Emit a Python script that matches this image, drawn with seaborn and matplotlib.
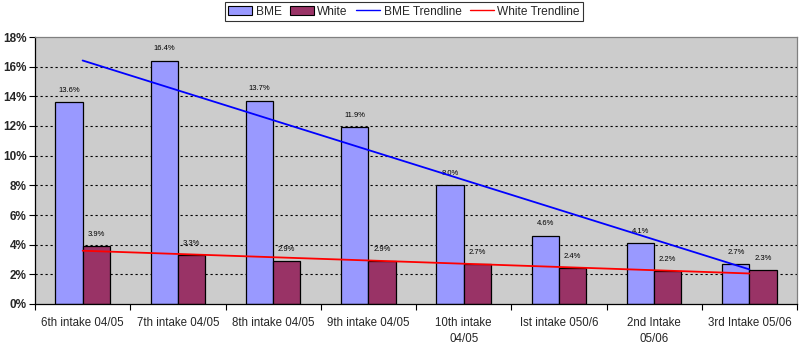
import numpy as np
import pandas as pd
import matplotlib
matplotlib.use("Agg")
import matplotlib.pyplot as plt
from matplotlib.patches import Patch
from matplotlib.lines import Line2D
import seaborn as sns

# Intake cohorts and the share of each group (%)
intakes = ["6th intake 04/05", "7th intake 04/05", "8th intake 04/05", "9th intake 04/05",
           "10th intake\n04/05", "Ist intake 050/6", "2nd Intake\n05/06", "3rd Intake 05/06"]
bme = [13.6, 16.4, 13.7, 11.9, 8.0, 4.6, 4.1, 2.7]
white = [3.9, 3.3, 2.9, 2.9, 2.7, 2.4, 2.2, 2.3]
y_ticks = [0, 2, 4, 6, 8, 10, 12, 14, 16, 18]

BME_COLOR = "#9999FF"
WHITE_COLOR = "#993366"
PLOT_BG = "#CCCCCC"

sns.set_theme(style="white")
plt.rcParams["font.family"] = ["Liberation Sans", "DejaVu Sans"]

df = pd.DataFrame({
    "intake": intakes * 2,
    "pct": bme + white,
    "group": ["BME"] * len(bme) + ["White"] * len(white),
})

fig = plt.figure(figsize=(8.01, 3.49), dpi=100)
ax = fig.add_axes([35 / 801, 1 - 304 / 349, (797 - 35) / 801, (304 - 37) / 349])
ax.set_facecolor(PLOT_BG)

sns.barplot(data=df, x="intake", y="pct", hue="group", order=intakes,
            hue_order=["BME", "White"], palette=[BME_COLOR, WHITE_COLOR],
            width=0.57, edgecolor="black", linewidth=0.9, saturation=1,
            errorbar=None, legend=False, ax=ax)

# Value labels above each bar
for container in ax.containers:
    ax.bar_label(container, labels=[f"{v:.1f}%" for v in container.datavalues],
                 padding=6, fontsize=5.5, color="black")

# Linear trendlines through the category centres
xs = np.arange(len(intakes))
for vals, col in [(bme, "#0000FF"), (white, "#FF0000")]:
    k, b = np.polyfit(xs, vals, 1)
    ax.plot(xs, k * xs + b, color=col, linewidth=1.3, zorder=5)

ax.set_xlim(-0.5, len(intakes) - 0.5)
ax.set_ylim(0, 18)
ax.set_yticks(y_ticks)
ax.set_yticklabels([f"{t}%" for t in y_ticks], fontsize=8.5, fontweight="bold")
for t in y_ticks[1:-1]:
    ax.axhline(t, color="black", linewidth=0.8, linestyle=(0, (2, 2.5)), zorder=0.5)

# Category separators as major ticks, labels on the minor ticks at the centres
ax.set_xticks(np.arange(len(intakes) + 1) - 0.5)
ax.set_xticklabels([])
ax.set_xticks(xs, minor=True)
ax.set_xticklabels(intakes, minor=True, fontsize=8.3, linespacing=1.45)
ax.tick_params(axis="x", which="major", direction="out", length=4, width=0.8,
               color="black", bottom=True)
ax.tick_params(axis="x", which="minor", length=0, pad=9)
ax.tick_params(axis="y", direction="out", length=4, width=0.8, color="black",
               left=True, pad=2)
ax.set_xlabel("")
ax.set_ylabel("")

for side in ["left", "bottom"]:
    ax.spines[side].set_color("black")
    ax.spines[side].set_linewidth(0.9)
for side in ["top", "right"]:
    ax.spines[side].set_color("#808080")
    ax.spines[side].set_linewidth(0.9)

handles = [
    Patch(facecolor=BME_COLOR, edgecolor="black", linewidth=0.8),
    Patch(facecolor=WHITE_COLOR, edgecolor="black", linewidth=0.8),
    Line2D([0], [0], color="#0000FF", linewidth=1),
    Line2D([0], [0], color="#FF0000", linewidth=1),
]
leg = fig.legend(handles, ["BME", "White", "BME Trendline", "White Trendline"],
                 loc="upper center", bbox_to_anchor=(404 / 801, 1 - 2 / 349), ncol=4,
                 fontsize=8.6, frameon=True, fancybox=False, borderpad=0.3,
                 handlelength=2.0, handleheight=0.8, handletextpad=0.3,
                 columnspacing=0.7, borderaxespad=0)
leg.get_frame().set_edgecolor("black")
leg.get_frame().set_linewidth(0.8)

fig.savefig("out.png", dpi=100, facecolor="white")
